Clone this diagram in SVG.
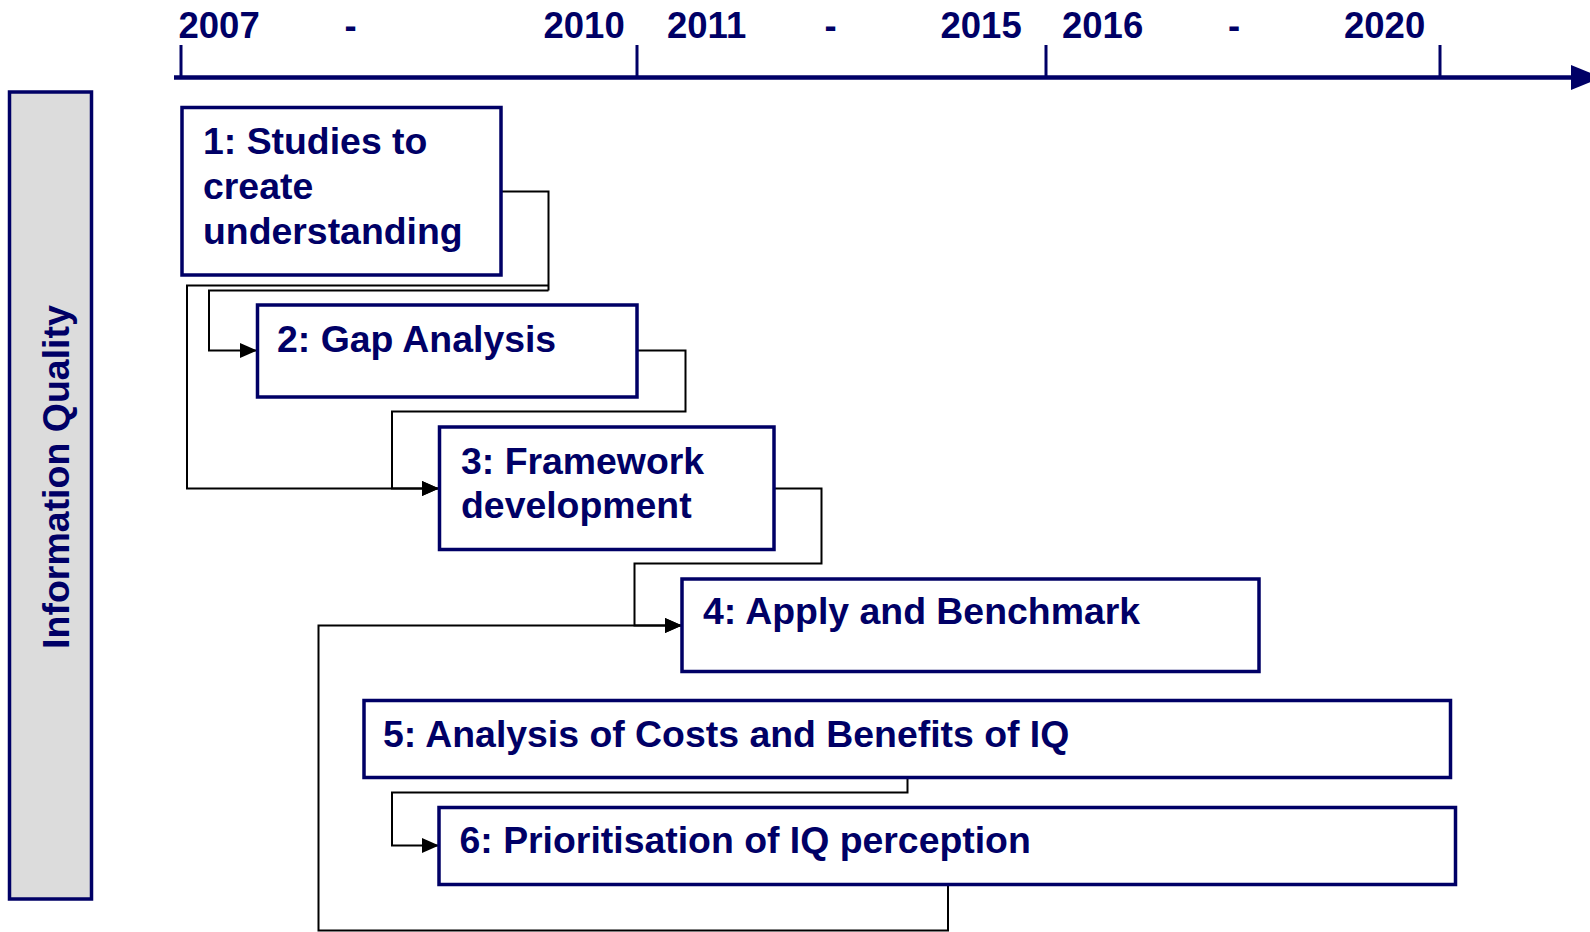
<svg xmlns="http://www.w3.org/2000/svg" width="1590" height="932" viewBox="0 0 1590 932">
<style>
.t{font-family:"Liberation Sans",Arial,sans-serif;font-weight:bold;fill:#000066}
.yr{font-size:36.5px}
.bx{font-size:37.4px}
.box{fill:#ffffff;stroke:#000066;stroke-width:3.5}
.ax{stroke:#000066;fill:none}
.c{fill:none;stroke:#000000;stroke-width:2}
.ca{fill:none;stroke:#000000;stroke-width:2;marker-end:url(#ah)}
</style>
<defs>
<marker id="ah" markerUnits="userSpaceOnUse" markerWidth="17" markerHeight="15" refX="17" refY="7.5" orient="auto">
<path d="M0,0 L17,7.5 L0,15 z" fill="#000000"/>
</marker>
</defs>
<rect width="1590" height="932" fill="#ffffff"/>
<g id="timeline">
<line class="ax" x1="174" y1="77.5" x2="1576" y2="77.5" stroke-width="4.5"/>
<polygon points="1571,65 1571,90 1602,77.5" fill="#000066"/>
<line class="ax" x1="181" y1="45" x2="181" y2="78" stroke-width="3"/>
<line class="ax" x1="637" y1="45" x2="637" y2="78" stroke-width="3"/>
<line class="ax" x1="1046" y1="45" x2="1046" y2="78" stroke-width="3"/>
<line class="ax" x1="1440" y1="45" x2="1440" y2="78" stroke-width="3"/>
<text class="t yr" x="178.5" y="37.5">2007</text>
<text class="t yr" x="350.5" y="37.5" text-anchor="middle">-</text>
<text class="t yr" x="543.5" y="37.5">2010</text>
<text class="t yr" x="667" y="37.5">2011</text>
<text class="t yr" x="830.5" y="37.5" text-anchor="middle">-</text>
<text class="t yr" x="940.5" y="37.5">2015</text>
<text class="t yr" x="1062" y="37.5">2016</text>
<text class="t yr" x="1234" y="37.5" text-anchor="middle">-</text>
<text class="t yr" x="1344" y="37.5">2020</text>
</g>
<g id="side-label">
<rect x="9.5" y="92" width="82" height="807" fill="#dcdcdc" stroke="#000066" stroke-width="3.5"/>
<text class="t" font-size="37.5" text-anchor="middle" transform="translate(69,477) rotate(-90)">Information Quality</text>
</g>
<g id="connectors">
<path class="c" d="M501,191.5 H548.5 V290.5"/>
<path class="ca" d="M548.5,290.5 H209 V350.5 H257"/>
<path class="ca" d="M548.5,285.5 H187 V488.5 H439"/>
<path class="ca" d="M637,350.5 H685.5 V411.5 H392 V488.5 H439"/>
<path class="ca" d="M774,488.5 H821.5 V563.5 H634.5 V625.5 H682"/>
<path class="ca" d="M948,885 V930.5 H318.5 V625.5 H682"/>
<path class="ca" d="M907.5,777.7 V792.5 H392 V845.5 H439"/>
</g>
<g id="node1">
<rect class="box" x="182" y="107.5" width="319" height="167.5"/>
<text class="t bx" x="203" y="153.5">1: Studies to</text>
<text class="t bx" x="203" y="198.5">create</text>
<text class="t bx" x="203" y="243.5">understanding</text>
</g>
<g id="node2">
<rect class="box" x="257.5" y="305" width="379.5" height="92"/>
<text class="t bx" x="277" y="351.5">2: Gap Analysis</text>
</g>
<g id="node3">
<rect class="box" x="439.5" y="427" width="334.5" height="122.5"/>
<text class="t bx" x="461" y="473.5">3: Framework</text>
<text class="t bx" x="461" y="517.5">development</text>
</g>
<g id="node4">
<rect class="box" x="682" y="579" width="577" height="92.5"/>
<text class="t bx" x="703" y="624">4: Apply and Benchmark</text>
</g>
<g id="node5">
<rect class="box" x="364" y="700.5" width="1086.5" height="77"/>
<text class="t bx" x="383" y="746.5">5: Analysis of Costs and Benefits of IQ</text>
</g>
<g id="node6">
<rect class="box" x="439" y="807.5" width="1016.5" height="77"/>
<text class="t bx" x="459.5" y="853">6: Prioritisation of IQ perception</text>
</g>
</svg>
